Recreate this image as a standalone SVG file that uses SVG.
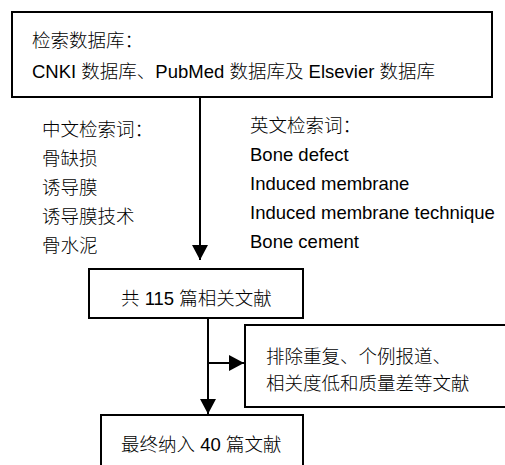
<svg xmlns="http://www.w3.org/2000/svg" width="505" height="465" viewBox="0 0 505 465">
<style>
.box{fill:#fff;stroke:#000;stroke-width:2}
.t{font-family:"Liberation Sans","Noto Sans CJK SC",Arial,sans-serif;font-size:18.5px;font-weight:300;fill:#000}
.l{font-weight:400}
.c{stroke:#000;stroke-width:2;fill:none}
</style>
<defs>
<marker id="ah" markerUnits="userSpaceOnUse" markerWidth="16" markerHeight="16" refX="15" refY="8" orient="auto">
<path d="M0,0 L15,8 L0,16 Z" fill="#000"/>
</marker>
</defs>
<g id="connectors">
<line class="c" x1="200" y1="97" x2="200" y2="260" marker-end="url(#ah)"/>
<line class="c" x1="208" y1="318" x2="208" y2="414" marker-end="url(#ah)"/>
<line class="c" x1="208" y1="363" x2="244" y2="363" marker-end="url(#ah)"/>
</g>
<g id="databases">
<rect class="box" x="12" y="12" width="480" height="85"/>
<text class="t" x="32" y="47">检索数据库：</text>
<text class="t" x="32" y="78"><tspan class="l">CNKI </tspan>数据库、<tspan class="l">PubMed </tspan>数据库及<tspan class="l"> Elsevier </tspan>数据库</text>
</g>
<g id="chinese-terms">
<text class="t" x="42" y="136">中文检索词：</text>
<text class="t" x="42" y="165">骨缺损</text>
<text class="t" x="42" y="194">诱导膜</text>
<text class="t" x="42" y="223">诱导膜技术</text>
<text class="t" x="42" y="252">骨水泥</text>
</g>
<g id="english-terms">
<text class="t" x="250" y="132">英文检索词：</text>
<text class="t l" x="250" y="161">Bone defect</text>
<text class="t l" x="250" y="190">Induced membrane</text>
<text class="t l" x="250" y="219">Induced membrane technique</text>
<text class="t l" x="250" y="248">Bone cement</text>
</g>
<g id="total">
<rect class="box" x="89" y="269" width="214" height="49"/>
<text class="t" x="121" y="305">共<tspan class="l"> 115 </tspan>篇相关文献</text>
</g>
<g id="excluded">
<rect class="box" x="245" y="325" width="270" height="82"/>
<text class="t" x="266" y="363">排除重复、个例报道、</text>
<text class="t" x="266" y="390">相关度低和质量差等文献</text>
</g>
<g id="included">
<rect class="box" x="101" y="415" width="202" height="70"/>
<text class="t" x="121" y="451">最终纳入<tspan class="l"> 40 </tspan>篇文献</text>
</g>
</svg>
